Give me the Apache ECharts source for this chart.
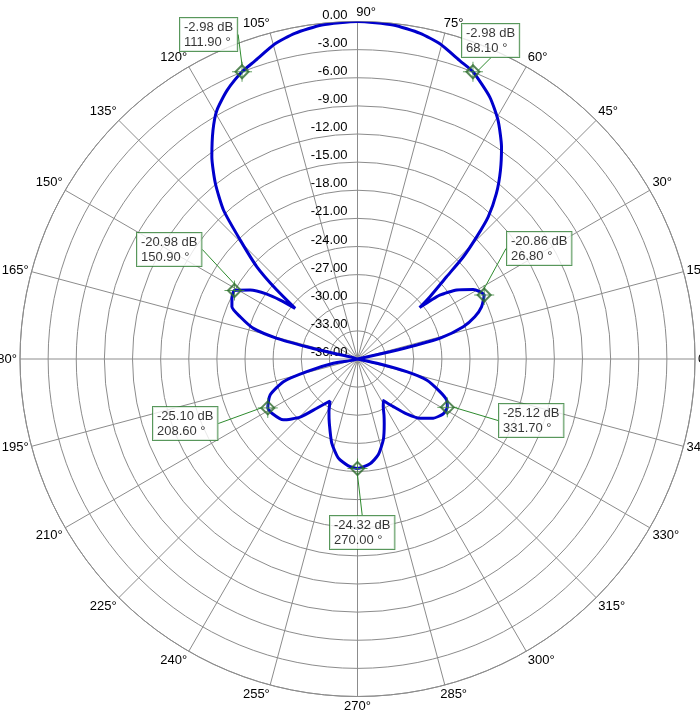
<!DOCTYPE html>
<html>
<head>
<meta charset="utf-8">
<title>polar pattern</title>
<script src="https://cdn.jsdelivr.net/npm/echarts/dist/echarts.min.js"></script>
<style>
    body {margin: 0; background: #fff;}
    #echarts {width: 700px; height: 715px;}
</style>
</head>
<body>
<div id="echarts"></div>
<script>
// pattern (angle in deg, level in dB)
let angleAry = [0, 12, 12.7, 13.3, 14.1, 17, 19.8, 22.8, 26.8, 31, 34.8, 37.8, 39.6,
    40.7, 42.7, 44, 45.7, 47.4, 50, 52.85, 55.8, 59.5, 63.2, 68.1, 70.9, 75.35, 79.1, 83.9,
    90, 96.1, 100.9, 104.65, 109.1, 111.9, 115.9, 119.5, 122.3, 125.8, 129, 132, 134.6,
    137.5, 139.5, 140.9, 142.7, 144.4, 147.3, 150.9, 154, 157.4, 160.2, 163.6, 165.6,
    166.4, 166.7, 167.5, 187, 190.1, 194, 197, 202.4, 208.6, 212.6, 219.4, 225.4, 230.4,
    236.8, 241.7, 246.3, 253, 259.1, 265.1, 270, 276.8, 282.2, 287.7, 292.6, 295.3, 298.4,
    301.75, 306.9, 311.8, 316.5, 322, 327.3, 331.7, 335.3, 338.4, 343.1, 345.5, 347.5, 349, 360];
let dbAry = [-36, -36, -32.45, -29.5, -26.9, -24.2, -22.7, -21.65, -20.86, -21.6, -23.1, -24.9, -27.4,
    -25.8, -23.1, -20.3, -17.8, -15.4, -12.95, -10.75, -8.67, -6.46, -4.7, -2.98, -2.4, -1.25, -0.63, -0.17,
    0, -0.17, -0.63, -1.25, -2.4, -2.98, -4.15, -5.53, -7.15, -9.44, -11.91, -14.65, -18.19,
    -21.44, -24.68, -27.43, -25.63, -24.11, -22.4, -20.98, -21.1, -21.49, -22.7, -24.43, -27.12,
    -30.43, -33.35, -36, -36, -33.38, -30.42, -27.74, -25.92, -25.1, -25.2, -25.77, -27.28, -29.18,
    -30.65, -29.58, -28.52, -26.61, -25.23, -24.56, -24.32, -24.74, -25.54, -26.95, -28.58, -29.39, -30.23,
    -30.78, -29.65, -28.14, -26.82, -25.75, -25.15, -25.12, -25.54, -26.55, -28.3, -30.59, -33.55, -36, -36];

/*标记点*/
let markAngle = [111.9, 68.1, 26.8, 150.9, 208.6, 331.7, 270.0];
let markDb = [-2.98, -2.98, -20.86, -20.98, -25.10, -25.12, -24.32];
// top-left corner of each note box
let boxPos = [[180, 18], [462, 24], [507, 232], [137, 233], [153, 407], [499, 404], [330, 516]];

// axis runs from 90 to 450 so the radius labels sit on the 90° spoke
let toAxis = (a) => a < 90 ? a + 360 : a;

let lineData = [];
for (let i = 0; i < angleAry.length; i++) {
    lineData.push([dbAry[i], toAxis(angleAry[i])]);
}
let markData = [];
for (let i = 0; i < markAngle.length; i++) {
    markData.push([markDb[i], toAxis(markAngle[i]), markAngle[i]]);
}

let font = 'Arial, "Liberation Sans", sans-serif';
let grid = '#8c8c8c';
let txt = {fontSize: 13, fontFamily: font, color: '#000'};

var myChart = echarts.init(document.getElementById('echarts'));
var option = {
    backgroundColor: '#fff',
    animation: false,
    polar: {
        center: [357.5, 359],
        radius: 337.5
    },
    angleAxis: {
        type: 'value',
        min: 90,
        max: 450,
        interval: 15,
        startAngle: 90,
        clockwise: false,
        axisLine: {
            lineStyle: {color: grid, width: 1}
        },
        axisTick: {show: false},
        splitLine: {
            show: true,
            lineStyle: {color: grid, width: 1}
        },
        axisLabel: {
            margin: 3,
            color: '#000',
            fontSize: 13,
            fontFamily: font,
            formatter: (v) => {
                let a = v % 360;
                if (a === 90) return '{t|' + a + '°}';
                if (a === 75 || a === 285) return '{r|' + a + '°}';
                if (a === 105 || a === 255) return '{l|' + a + '°}';
                return a + '°';
            },
            rich: {
                t: Object.assign({padding: [0, 0, 0, 17]}, txt),
                r: Object.assign({padding: [0, 0, 0, 16]}, txt),
                l: Object.assign({padding: [0, 26, 0, 0]}, txt)
            }
        }
    },
    radiusAxis: {
        type: 'value',
        min: -36,
        max: 0,
        interval: 3,
        axisLine: {show: false},
        axisTick: {show: false},
        splitLine: {
            show: true,
            lineStyle: {color: grid, width: 1}
        },
        axisLabel: {
            color: '#000',
            fontSize: 13,
            fontFamily: font,
            margin: 10,
            align: 'right',
            verticalAlign: 'bottom',
            formatter: (v) => v.toFixed(2)
        },
        z: 1
    },
    series: [
        {
            name: 'pattern',
            type: 'line',
            coordinateSystem: 'polar',
            showSymbol: false,
            smooth: 0.2,
            clip: false,
            lineStyle: {color: '#0000cc', width: 3},
            data: lineData,
            z: 3
        },
        {
            name: 'cross',
            type: 'scatter',
            coordinateSystem: 'polar',
            symbol: 'path://M10,0L10,20M0,10L20,10',
            symbolSize: 20,
            itemStyle: {color: 'none', borderColor: '#3b8a3b', borderWidth: 1},
            data: markData,
            z: 4
        },
        {
            name: 'mark',
            type: 'scatter',
            coordinateSystem: 'polar',
            symbol: 'path://M6,0L12,6L6,12L0,6Z',
            symbolSize: 13,
            itemStyle: {color: 'none', borderColor: '#2e6a2e', borderWidth: 2},
            data: markData,
            z: 5,
            label: {
                show: true,
                formatter: (p) => p.data[0].toFixed(2) + ' dB\n' + p.data[2].toFixed(2) + ' °',
                color: '#000',
                fontSize: 13,
                fontFamily: font,
                lineHeight: 15,
                align: 'left',
                backgroundColor: '#fff',
                borderColor: '#2e7d32',
                borderWidth: 1,
                padding: [2, 4, 1, 4]
            },
            labelLayout: (p) => ({
                x: boxPos[p.dataIndex][0],
                y: boxPos[p.dataIndex][1],
                align: 'left',
                verticalAlign: 'top',
                hideOverlap: false
            }),
            labelLine: {
                show: true,
                lineStyle: {color: '#2e8b2e', width: 1}
            }
        }
    ]
};
myChart.setOption(option);
</script>
</body>
</html>
